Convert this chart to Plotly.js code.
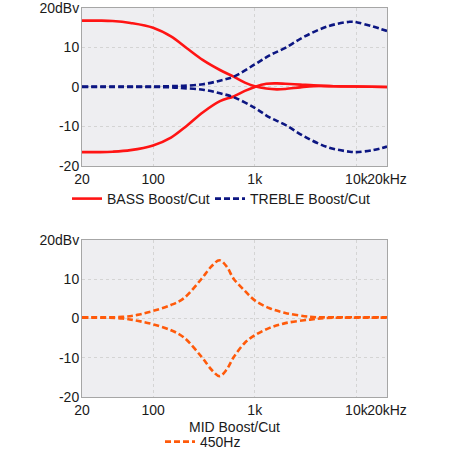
<!DOCTYPE html>
<html><head><meta charset="utf-8">
<script src="https://cdn.plot.ly/plotly-3.0.1.min.js"></script>
<style>html,body{margin:0;padding:0;background:#fff}#g{width:450px;height:450px}</style>
</head><body><div id="g"></div>
<script>
// Frequency tick labels
const freqTickVals = [20, 100, 1000, 10000, 20000];
const freqTickText = ["20", "100", "1k", "10k", "20kHz"];
const dbTickVals = [-20, -10, 0, 10, 20];
const dbTickText = ["-20", "-10", "0", "10", "20dBv"];

// BASS
const bassFreq = [20,30,40,60,100,150,215,310,455,620,800,1000,1300,1650,2000,2800,3800,6000,10000,20000];
const bassBoost = [16.8,16.8,16.7,16.2,15.0,12.8,9.8,6.8,4.3,2.6,1.1,0.2,-0.4,-0.6,-0.5,-0.1,0.2,0.2,0.1,0.0];
const bassCut = [-16.5,-16.5,-16.4,-16.0,-14.8,-12.8,-9.8,-6.4,-3.6,-2.4,-1.0,0.0,0.8,0.9,0.8,0.6,0.4,0.2,0.1,0.0];

// TREBLE
const trebleFreq = [20,50,100,150,200,310,455,620,1000,1400,2000,3100,5300,8600,10000,14500,20000];
const trebleBoost = [0.1,0.1,0.1,0.2,0.3,0.7,1.6,2.6,5.7,8.0,9.9,12.8,15.4,16.5,16.4,15.3,14.2];
const trebleCut = [0.0,0.0,0.0,-0.1,-0.3,-0.7,-1.6,-2.6,-5.3,-7.7,-9.6,-12.6,-15.3,-16.4,-16.5,-16.0,-15.1];

// MID 450Hz
const midFreq = [20,50,70,100,150,200,300,380,450,530,620,800,1000,1400,2000,3500,5000,10000,20000];
const midBoost = [0.3,0.4,0.9,1.9,3.4,5.1,10.1,13.4,14.8,13.2,10.1,7.0,4.6,2.6,1.4,0.4,0.3,0.3,0.3];
const midCut = [0.2,0.0,-0.6,-1.5,-3.0,-4.8,-9.8,-13.2,-14.7,-13.0,-9.9,-6.2,-4.3,-2.4,-1.2,-0.3,0.1,0.2,0.2];

const RED = "#ff1414", NAVY = "#0c1682", ORANGE = "#ff5a0a";
const W = 2.6;

const traces = [
  {x: bassFreq, y: bassBoost, name: "BASS Boost/Cut", legendgroup: "bass", legend: "legend",
   mode: "lines", line: {color: RED, width: W, shape: "spline"}, xaxis: "x", yaxis: "y"},
  {x: bassFreq, y: bassCut, name: "BASS Boost/Cut", legendgroup: "bass", legend: "legend", showlegend: false,
   mode: "lines", line: {color: RED, width: W, shape: "spline"}, xaxis: "x", yaxis: "y"},
  {x: trebleFreq, y: trebleBoost, name: "TREBLE Boost/Cut", legendgroup: "treble", legend: "legend3",
   mode: "lines", line: {color: NAVY, width: W, dash: "6px,3px", shape: "spline"}, xaxis: "x", yaxis: "y"},
  {x: trebleFreq, y: trebleCut, name: "TREBLE Boost/Cut", legendgroup: "treble", legend: "legend3", showlegend: false,
   mode: "lines", line: {color: NAVY, width: W, dash: "6px,3px", shape: "spline"}, xaxis: "x", yaxis: "y"},
  {x: midFreq, y: midBoost, name: "450Hz", legendgroup: "mid", legend: "legend2",
   mode: "lines", line: {color: ORANGE, width: W, dash: "6px,3px", shape: "spline"}, xaxis: "x2", yaxis: "y2"},
  {x: midFreq, y: midCut, name: "450Hz", legendgroup: "mid", legend: "legend2", showlegend: false,
   mode: "lines", line: {color: ORANGE, width: W, dash: "6px,3px", shape: "spline"}, xaxis: "x2", yaxis: "y2"}
];

const xBase = {
  type: "log", range: [Math.log10(20), Math.log10(20000)],
  tickmode: "array", tickvals: freqTickVals, ticktext: freqTickText, tickangle: 0,
  showline: true, mirror: true, linecolor: "#a6a6a6", linewidth: 1,
  showgrid: true, gridcolor: "#d4d4d4", griddash: "dot", gridwidth: 1,
  ticks: "", zeroline: false, fixedrange: true, ticklabeloverflow: "allow", automargin: false,
  ticklabelstandoff: 0,
  tickfont: {size: 14, color: "#1a1a1a"}
};
const yBase = {
  range: [-20, 20], tickmode: "array", tickvals: dbTickVals, ticktext: dbTickText,
  showline: true, mirror: true, linecolor: "#a6a6a6", linewidth: 1,
  showgrid: true, gridcolor: "#d4d4d4", griddash: "dot", gridwidth: 1,
  ticks: "", zeroline: false, fixedrange: true, ticklabelstandoff: -1, ticklabeloverflow: "allow",
  automargin: false,
  tickfont: {size: 14, color: "#1a1a1a"}
};

const legBase = {orientation: "h", xanchor: "left", yanchor: "middle",
  font: {size: 14, color: "#1a1a1a"}, bgcolor: "rgba(0,0,0,0)", borderwidth: 0};

const layout = {
  width: 450, height: 450,
  margin: {l: 82, r: 63, t: 8, b: 53, autoexpand: false},
  paper_bgcolor: "#ffffff", plot_bgcolor: "#eeeef1",
  font: {family: "Liberation Sans, Arial, sans-serif", size: 14, color: "#1a1a1a"},
  xaxis: Object.assign({}, xBase, {anchor: "y"}),
  yaxis: Object.assign({}, yBase, {domain: [0.594, 1], anchor: "x"}),
  xaxis2: Object.assign({}, xBase, {anchor: "y2",
    title: {text: "MID Boost/Cut", font: {size: 14, color: "#1a1a1a"}, standoff: 5}}),
  yaxis2: Object.assign({}, yBase, {domain: [0, 0.404], anchor: "x2"}),
  legend: Object.assign({}, legBase, {x: (67 - 82) / 305, y: (397 - 199) / 389}),
  legend3: Object.assign({}, legBase, {x: (210 - 82) / 305, y: (397 - 199) / 389}),
  legend2: Object.assign({}, legBase, {x: (160 - 82) / 305, y: (397 - 442) / 389}),
  showlegend: true
};

Plotly.newPlot("g", traces, layout, {displayModeBar: false, staticPlot: true});
</script></body></html>
